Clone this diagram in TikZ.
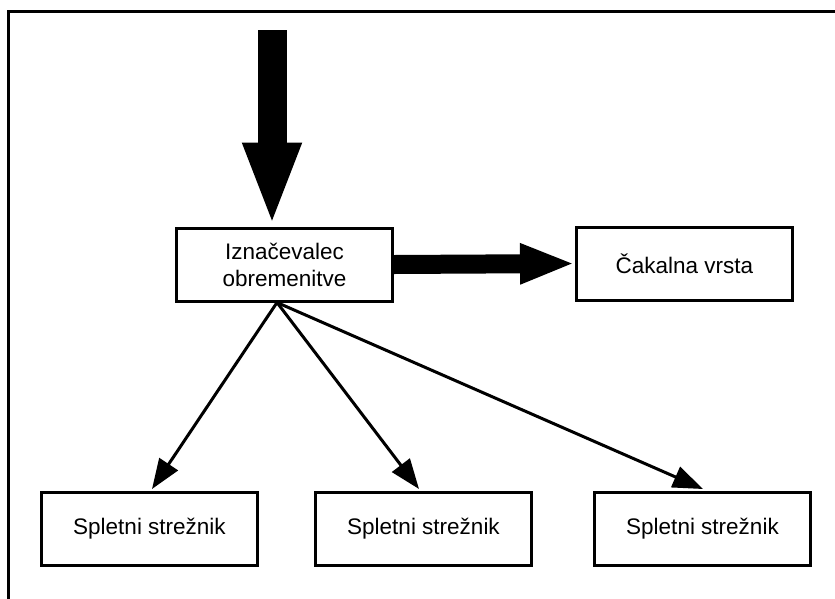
\documentclass[tikz,border=0pt]{standalone}
\usepackage{fontspec}
\setmainfont{Liberation Sans}
\usetikzlibrary{arrows.meta}
\begin{document}
\begin{tikzpicture}[x=1pt,y=-1pt,
  box/.style={draw=black,line width=3pt,fill=white,minimum width=216pt,
    minimum height=73pt,inner sep=0pt,align=center,
    font=\fontsize{22.5}{27}\selectfont},
  thinarrow/.style={line width=3pt,-{Triangle[length=30pt,width=22pt]}},
]
\useasboundingbox (0,0) rectangle (835,598);
\clip (0,0) rectangle (835,598);
% outer frame, running off the right and bottom edges
\draw[line width=3pt] (8.5,11.5) rectangle (860,620);

% nodes
\node[box] (marker) at (284.5,264.5) {Iznačevalec\\obremenitve};
\node[box] (queue)  at (684.5,263.5) {Čakalna vrsta};
\node[box] (srvA)   at (149.5,529) {Spletni strežnik};
\node[box] (srvB)   at (423.5,529) {Spletni strežnik};
\node[box] (srvC)   at (702.5,529) {Spletni strežnik};

% incoming load
\coordinate (load) at (272,30);
\draw[line width=29pt,-{Triangle[length=84pt,width=53pt]}]
  (load) -- (load |- marker.north);

% marker to queue
\draw[line width=19pt,-{Triangle[length=55pt,width=37pt]}]
  (marker.east) -- (queue.west);

% marker fanning out to the web servers
\coordinate (fan) at ([xshift=-7.5pt]marker.south);
\draw[thinarrow] (fan) -- ([xshift=2.5pt,yshift=2pt]srvA.north);
\draw[thinarrow] (fan) -- ([xshift=-4.5pt,yshift=2pt]srvB.north);
\draw[thinarrow] (fan) -- ([xshift=0.5pt,yshift=2pt]srvC.north);
\end{tikzpicture}
\end{document}
